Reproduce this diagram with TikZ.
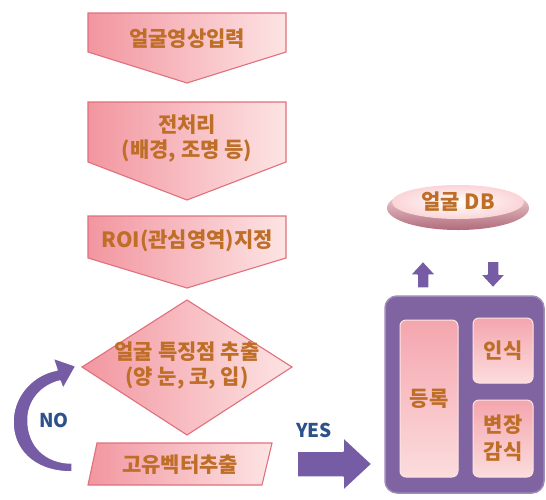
\documentclass[tikz,border=0pt]{standalone}
\usepackage{fontspec}
\setmainfont{Noto Sans CJK KR}
\definecolor{pinkL}{RGB}{242,150,160}
\definecolor{pinkR}{RGB}{253,228,228}
\definecolor{pinkEdge}{RGB}{224,112,124}
\definecolor{txtOrange}{RGB}{190,110,38}
\definecolor{purpleBox}{RGB}{128,100,162}
\definecolor{purpleArrow}{RGB}{118,92,164}
\definecolor{blueLabel}{RGB}{44,82,140}
\definecolor{dbRim}{RGB}{176,108,124}
\begin{document}
\begin{tikzpicture}[x=1pt,y=-1pt,
    pinkshape/.style={draw=pinkEdge,line width=1.1pt,left color=pinkL,right color=pinkR},
    boxtext/.style={font=\fontsize{21}{25}\selectfont\bfseries,text=txtOrange,align=center},
    sidebox/.style={boxtext,draw=pinkR,line width=1pt,rounded corners=6pt,
        top color=pinkL!85!white,bottom color=pinkR!90!pinkL,inner sep=0pt},
    blockarrow/.style={fill=purpleArrow,draw=white,line width=1.5pt,line join=round},
    yesno/.style={font=\fontsize{19}{22}\selectfont\bfseries,text=blueLabel},
  ]
  \useasboundingbox (0,0) rectangle (546,499);

  % flow on the left
  \path[pinkshape] (88,13) -- (286,13) -- (286,52) -- (187,83) -- (88,52) -- cycle;
  \node[boxtext] (input) at (187,39) {얼굴영상입력};
  \path[pinkshape] (88,102) -- (286,102) -- (286,162) -- (187,200) -- (88,162) -- cycle;
  \node[boxtext] (prep) at (187,139) {전처리\\(배경, 조명 등)};
  \path[pinkshape] (88,216) -- (286,216) -- (286,258) -- (187,288) -- (88,258) -- cycle;
  \node[boxtext] (roi) at (187,241) {ROI(관심영역)지정};
  \path[pinkshape] (187,300) -- (292,367) -- (187,435) -- (82,367) -- cycle;
  \node[boxtext] (feature) at (187,366) {얼굴 특징점 추출\\(양 눈, 코, 입)};
  \path[pinkshape] (97,443) -- (272,443) -- (262,485) -- (88,485) -- cycle;
  \node[boxtext] (vector) at (180,465) {고유벡터추출};

  % NO / YES
  \path[blockarrow] (72,472) .. controls (32,472) and (12,448) .. (13,420)
    .. controls (14,394) and (34,374) .. (57,370) -- (53,358) -- (76,366)
    -- (63,389) -- (60,381) .. controls (40,386) and (28,402) .. (28,420)
    .. controls (28,446) and (46,463) .. (72,463) -- cycle;
  \node[yesno] (no) at (54,420) {NO};
  \path[blockarrow] (297,451) -- (343,451) -- (343,437) -- (372,464)
    -- (343,491) -- (343,477) -- (297,477) -- cycle;
  \node[yesno] (yes) at (314,430) {YES};

  % database
  \path[top color=pinkR,bottom color=dbRim] (458,208) ellipse (71 and 22);
  \path[inner color=white,outer color=pinkR!80!pinkL] (458,202) ellipse (66 and 17);
  \node[boxtext] (db) at (458,202) {얼굴 DB};
  \path[blockarrow] (417,288) -- (417,275) -- (410,275) -- (423,261) -- (436,275)
    -- (429,275) -- (429,288) -- cycle;
  \path[blockarrow] (487,261) -- (499,261) -- (499,274) -- (506,274) -- (493,288)
    -- (480,274) -- (487,274) -- cycle;

  % recognition block
  \path[fill=purpleBox,draw=purpleBox!75!white,line width=1.5pt,rounded corners=12pt]
    (385,296) rectangle (544,493);
  \node[sidebox,minimum width=58,minimum height=157] (register) at (429,398.5) {등록};
  \node[sidebox,minimum width=60,minimum height=65] (recog) at (503,350.5) {인식};
  \node[sidebox,minimum width=60,minimum height=77,font=\fontsize{21}{27}\selectfont\bfseries]
    (disguise) at (503,438.5) {변장\\감식};
\end{tikzpicture}
\end{document}
